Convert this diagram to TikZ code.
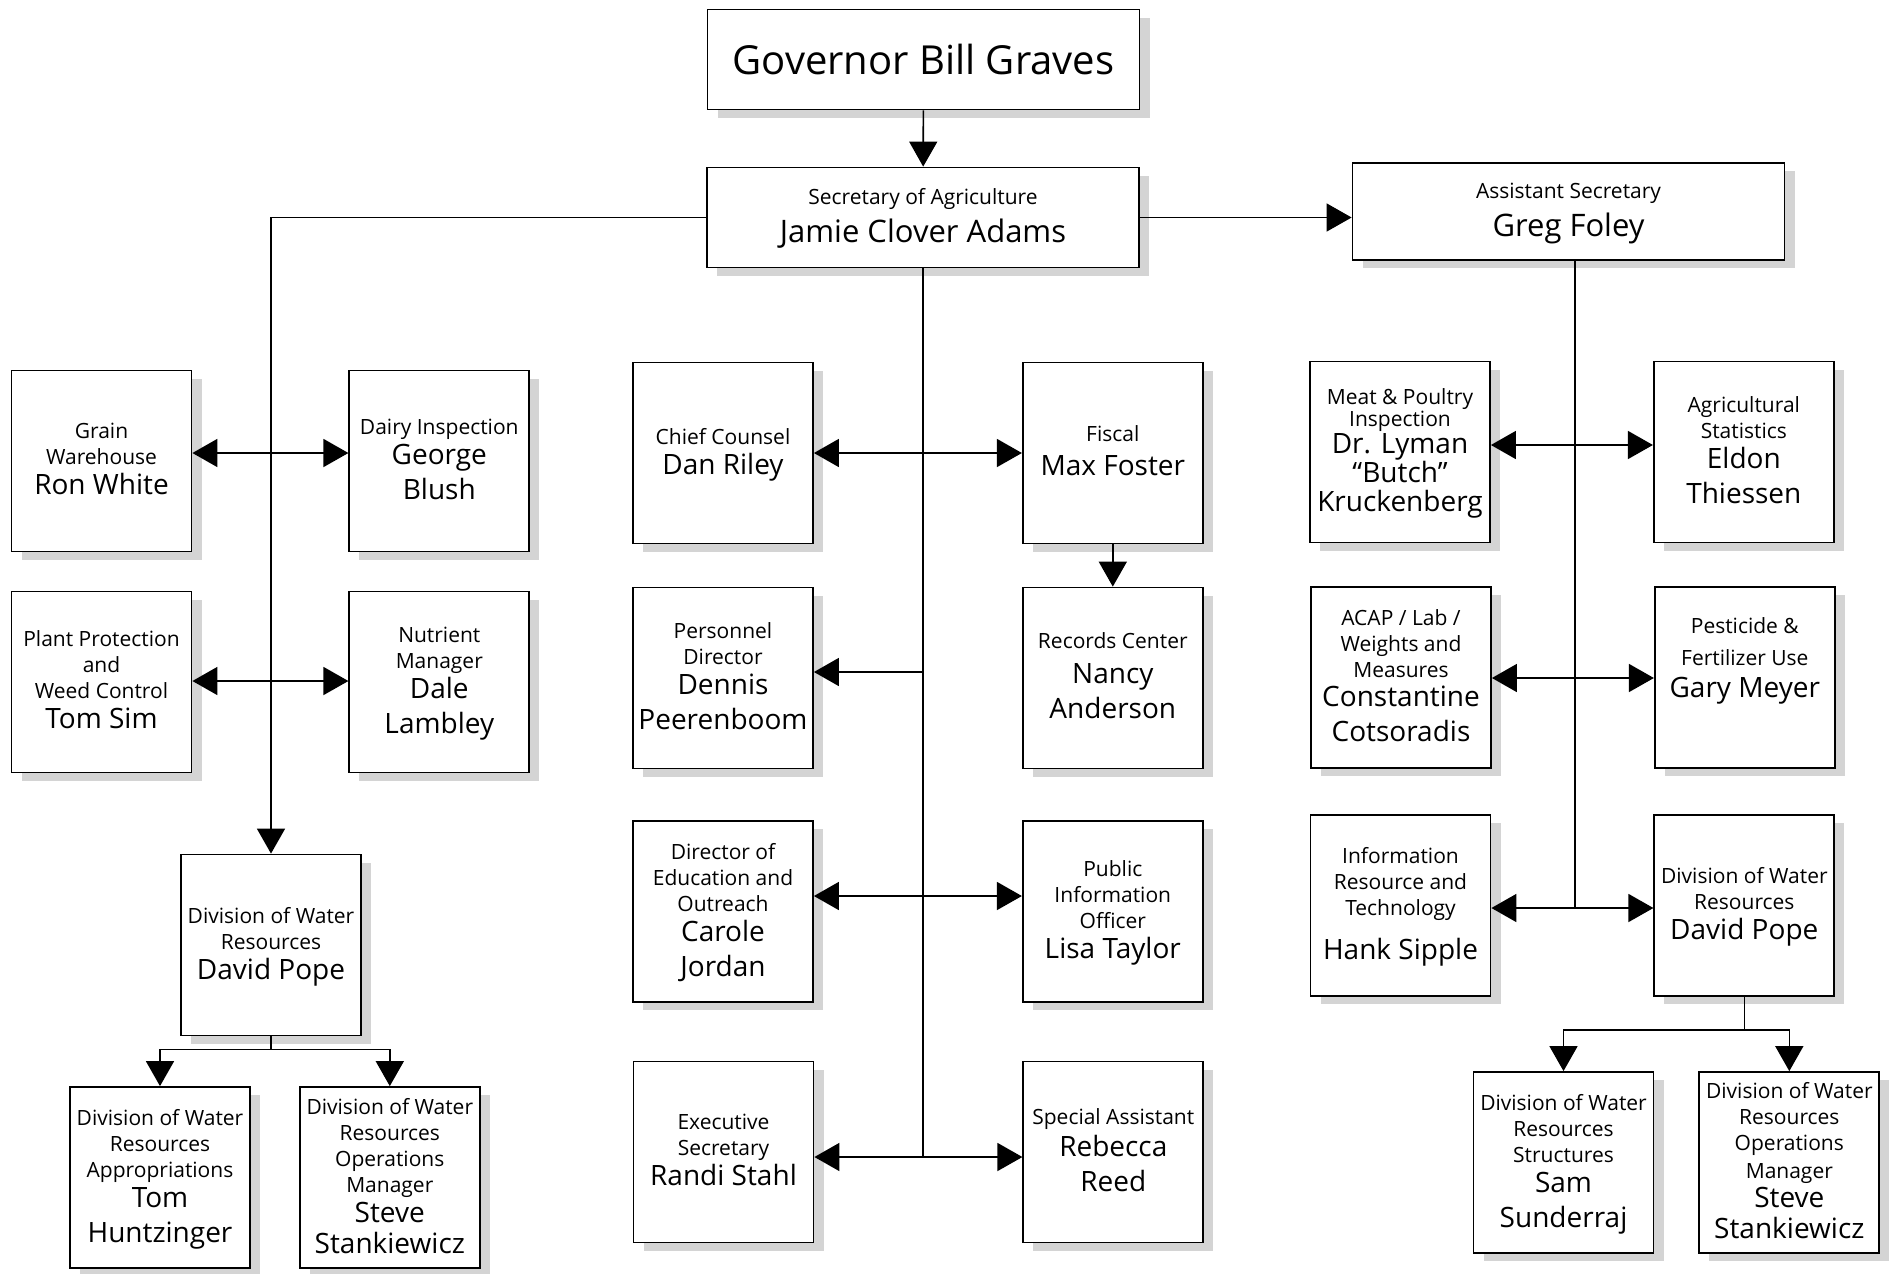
\documentclass[tikz,border=0pt]{standalone}
\usepackage{fontspec}
\setmainfont{Open Sans}
\usetikzlibrary{arrows.meta, positioning, shadows}

\newcommand\who[1]{\raisebox{0pt}[8pt][2pt]{\fontsize{14}{16}\selectfont #1}}
\newcommand\boss[1]{\raisebox{0pt}[9pt][2pt]{\fontsize{15.5}{18}\selectfont #1}}

\begin{document}
\begin{tikzpicture}[
    x=0.5pt, y=-0.5pt,
    >={Triangle[length=12.5pt, width=14pt]},
    link/.style={line width=0.8pt},
    office/.style={draw, fill=white, line width=0.9pt, minimum width=90pt,
        minimum height=90.5pt, inner sep=2pt, align=center,
        font=\fontsize{10.5}{13}\selectfont,
        drop shadow={shadow xshift=5pt, shadow yshift=-4pt, fill=black!17, opacity=1}},
    head/.style={office, minimum width=216pt, minimum height=50pt}
]
\useasboundingbox (0,0) rectangle (1890,1274);

% top of the chart
\node[head, font=\fontsize{20}{24}\selectfont] (gov) at (923.5,59.5) {Governor Bill Graves};
\node[head] (sec) at (923,217.5) {Secretary of Agriculture\\[6pt]\boss{Jamie Clover Adams}};
\node[head, minimum height=48.5pt] (asst) at (1568.5,211.5) {Assistant Secretary\\[6pt]\boss{Greg Foley}};

% left branch
\node[office] (grain) at (101.5,461) {Grain\\Warehouse\\[2pt]\who{Ron White}};
\node[office, right=78pt of grain] (dairy) {Dairy Inspection\\[2pt]\who{George}\\[4.5pt]\who{Blush}};
\node[office] (plant) at (101.5,682) {Plant Protection\\and\\Weed Control\\[2pt]\who{Tom Sim}};
\node[office, right=78pt of plant] (nutrient) {Nutrient\\Manager\\[2pt]\who{Dale}\\[4.5pt]\who{Lambley}};
\node[office] (dwrL) at (271,945) {Division of Water\\Resources\\[2pt]\who{David Pope}};
\node[office] (approp) at (160,1177.5) {Division of Water\\Resources\\Appropriations\\[2pt]\who{Tom}\\[4.5pt]\who{Huntzinger}};
\node[office, right=24pt of approp] (opsL) {Division of Water\\Resources\\Operations\\Manager\\[2pt]\who{Steve}\\[2.5pt]\who{Stankiewicz}};

% middle branch
\node[office] (chief) at (723,453) {Chief Counsel\\[2pt]\who{Dan Riley}};
\node[office, right=104pt of chief] (fiscal) {Fiscal\\[4pt]\who{Max Foster}};
\node[office] (personnel) at (723,678) {Personnel\\Director\\[2pt]\who{Dennis}\\[4.5pt]\who{Peerenboom}};
\node[office, right=104pt of personnel] (records) {Records Center\\[4.5pt]\who{Nancy}\\[4.5pt]\who{Anderson}};
\node[office] (edu) at (723,911.5) {Director of\\Education and\\Outreach\\[2pt]\who{Carole}\\[4.5pt]\who{Jordan}};
\node[office, right=104pt of edu] (pio) {Public\\Information\\Officer\\[2pt]\who{Lisa Taylor}};
\node[office] (exec) at (723.5,1152) {Executive\\Secretary\\[2pt]\who{Randi Stahl}};
\node[office, right=104pt of exec] (special) {Special Assistant\\[3pt]\who{Rebecca}\\[4.5pt]\who{Reed}};

% right branch
\node[office] (meat) at (1400,452) {Meat \& Poultry\\[-2pt]Inspection\\[0.5pt]\who{Dr. Lyman}\\[1.5pt]\who{“Butch”}\\[1.5pt]\who{Kruckenberg}};
\node[office, right=81pt of meat] (agri) {Agricultural\\Statistics\\[2pt]\who{Eldon}\\[4.5pt]\who{Thiessen}};
\node[office] (acap) at (1401,677.5) {ACAP / Lab /\\Weights and\\Measures\\[1.5pt]\who{Constantine}\\[4.5pt]\who{Cotsoradis}};
\node[office, right=81pt of acap] (pest) {Pesticide \&\\[3pt]Fertilizer Use\\[3pt]\who{Gary Meyer}\\[7pt]\mbox{}};
\node[office] (info) at (1400.5,905.5) {Information\\Resource and\\Technology\\[9pt]\who{Hank Sipple}};
\node[office, right=81pt of info] (dwrR) {Division of Water\\Resources\\[2pt]\who{David Pope}};
\node[office] (struct) at (1563.5,1162.5) {Division of Water\\Resources\\Structures\\[2pt]\who{Sam}\\[4.5pt]\who{Sunderraj}};
\node[office, right=22pt of struct] (opsR) {Division of Water\\Resources\\Operations\\[1pt]Manager\\[1.5pt]\who{Steve}\\[2.5pt]\who{Stankiewicz}};

% rows on the trunks
\coordinate (lrow1) at (269,453);
\coordinate (lrow2) at (269,681);
\coordinate (mid1) at (922,453);
\coordinate (mid2) at (922,672);
\coordinate (mid3) at (922,896);
\coordinate (mid4) at (922,1157);
\coordinate (rgt1) at (1575,445);
\coordinate (rgt2) at (1575,678);
\coordinate (rgt3) at (1575,908);

% chain of command
\draw[link, ->] (gov) -- (sec);
\draw[link, ->] (sec.east) -- (asst.west |- sec.east);
\draw[link, ->] (sec.west) -| (dwrL.north);
\draw[link] (sec.south) -- (sec.south |- mid4);
\draw[link] (asst.south -| rgt3) -- (rgt3);

\draw[link, <->] (grain.east |- lrow1) -- (dairy.west |- lrow1);
\draw[link, <->] (plant.east |- lrow2) -- (nutrient.west |- lrow2);
\draw[link, ->] (dwrL.south) -- ++(0,13) -| (approp.north);
\draw[link, ->] (dwrL.south) -- ++(0,13) -| (opsL.north);

\draw[link, <->] (chief.east |- mid1) -- (fiscal.west |- mid1);
\draw[link, ->] (mid2) -- (personnel.east |- mid2);
\draw[link, <->] (edu.east |- mid3) -- (pio.west |- mid3);
\draw[link, <->] (exec.east |- mid4) -- (special.west |- mid4);
\draw[link, ->] (fiscal) -- (records);

\draw[link, <->] (meat.east |- rgt1) -- (agri.west |- rgt1);
\draw[link, <->] (acap.east |- rgt2) -- (pest.west |- rgt2);
\draw[link, <->] (info.east |- rgt3) -- (dwrR.west |- rgt3);
\draw[link, ->] (dwrR.south) -- ++(0,33) -| (struct.north);
\draw[link, ->] (dwrR.south) -- ++(0,33) -| (opsR.north);
\end{tikzpicture}
\end{document}
